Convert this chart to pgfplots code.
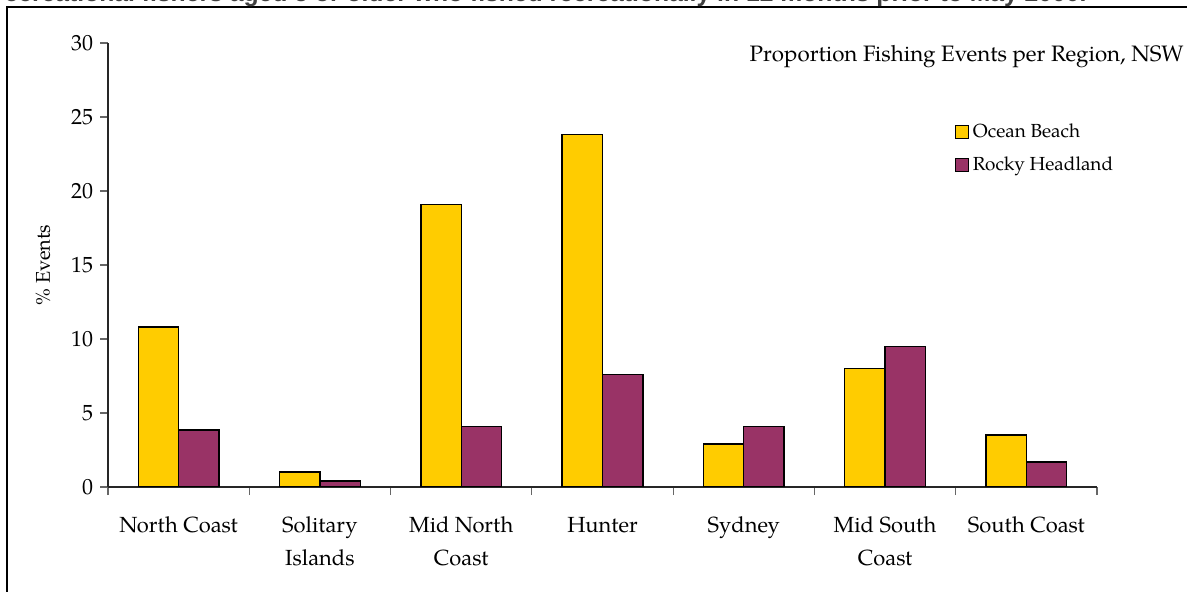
\documentclass[border=0pt]{standalone}
\usepackage{pgfplots}
\pgfplotsset{compat=1.18}
\usepackage{fontspec}
\setmainfont{TeX Gyre Pagella}
\newfontfamily\headfont{Liberation Sans}
\definecolor{oceanbeach}{HTML}{FFCC00}
\definecolor{rockyhead}{HTML}{993366}

\begin{document}
\begin{tikzpicture}
\path[use as bounding box] (0,0) rectangle (593.5bp,296bp);
% frame and captions, in a pixel-like grid measured from the top left
\begin{scope}[x=0.5bp, y=-0.5bp, shift={(0,296bp)}]
  \draw[line width=0.8bp, black] (7,620) -- (7,7) -- (1200,7);
  \node[anchor=base east, inner sep=0pt, text=black!75,
        font=\headfont\bfseries\fontsize{12.4}{14}\selectfont]
    at (1087,1.5) {recreational fishers aged 5 or older who fished recreationally in 12 months prior to May 2000.};
  \node[anchor=base east, inner sep=0pt, font=\fontsize{11.2}{14}\selectfont]
    at (1184,61.5) {Proportion Fishing Events per Region, NSW};
\end{scope}
\begin{axis}[
  at={(54bp,52.5bp)}, anchor=south west,
  scale only axis, width=494.5bp, height=222bp,
  ymin=0, ymax=30, xmin=-0.5, xmax=6.5,
  ytick={0,5,...,30},
  xtick={0,...,6},
  xticklabels={North Coast, Solitary\\Islands, Mid North\\Coast, Hunter, Sydney, Mid South\\Coast, South Coast},
  minor xtick={-0.5,0.5,...,6.5},
  axis x line*=bottom, axis y line*=left,
  axis line style={-, line width=0.6bp, black!85},
  tick align=outside,
  major tick length=4bp, minor tick length=4bp,
  major x tick style={draw=none},
  minor x tick style={line width=0.6bp, black!60},
  y tick style={line width=0.6bp, black!60},
  /pgf/number format/assume math mode=true,
  y tick label style={font=\fontsize{11}{13}\selectfont},
  x tick label style={align=center, yshift=-7.5bp, font=\fontsize{11}{16.5}\selectfont},
  ylabel={\% Events},
  ylabel style={font=\fontsize{12}{14}\selectfont},
  every axis y label/.style={at={(axis description cs:-0.0657,0.5)}, rotate=90, anchor=center},
  ybar=0pt, bar width=20.2bp,
  legend style={at={(axis description cs:0.856,0.829)}, anchor=north west,
    draw=none, fill=none, inner sep=0pt,
    font=\fontsize{9.5}{12}\selectfont, row sep=4.5bp,
    legend cell align=left},
]
\addplot[ybar, fill=oceanbeach, draw=black, line width=0.7bp,
  legend image code/.code={\draw[fill=oceanbeach, draw=black, line width=0.5bp] (0bp,-3.25bp) rectangle (6.5bp,3.25bp);}]
  coordinates {(0,10.8) (1,1.0) (2,19.1) (3,23.8) (4,2.9) (5,8.0) (6,3.5)};
\addlegendentry{Ocean Beach}
\addplot[ybar, fill=rockyhead, draw=black, line width=0.7bp,
  legend image code/.code={\draw[fill=rockyhead, draw=black, line width=0.5bp] (0bp,-3.25bp) rectangle (6.5bp,3.25bp);}]
  coordinates {(0,3.85) (1,0.4) (2,4.1) (3,7.6) (4,4.1) (5,9.5) (6,1.7)};
\addlegendentry{Rocky Headland}
\end{axis}
\end{tikzpicture}
\end{document}
